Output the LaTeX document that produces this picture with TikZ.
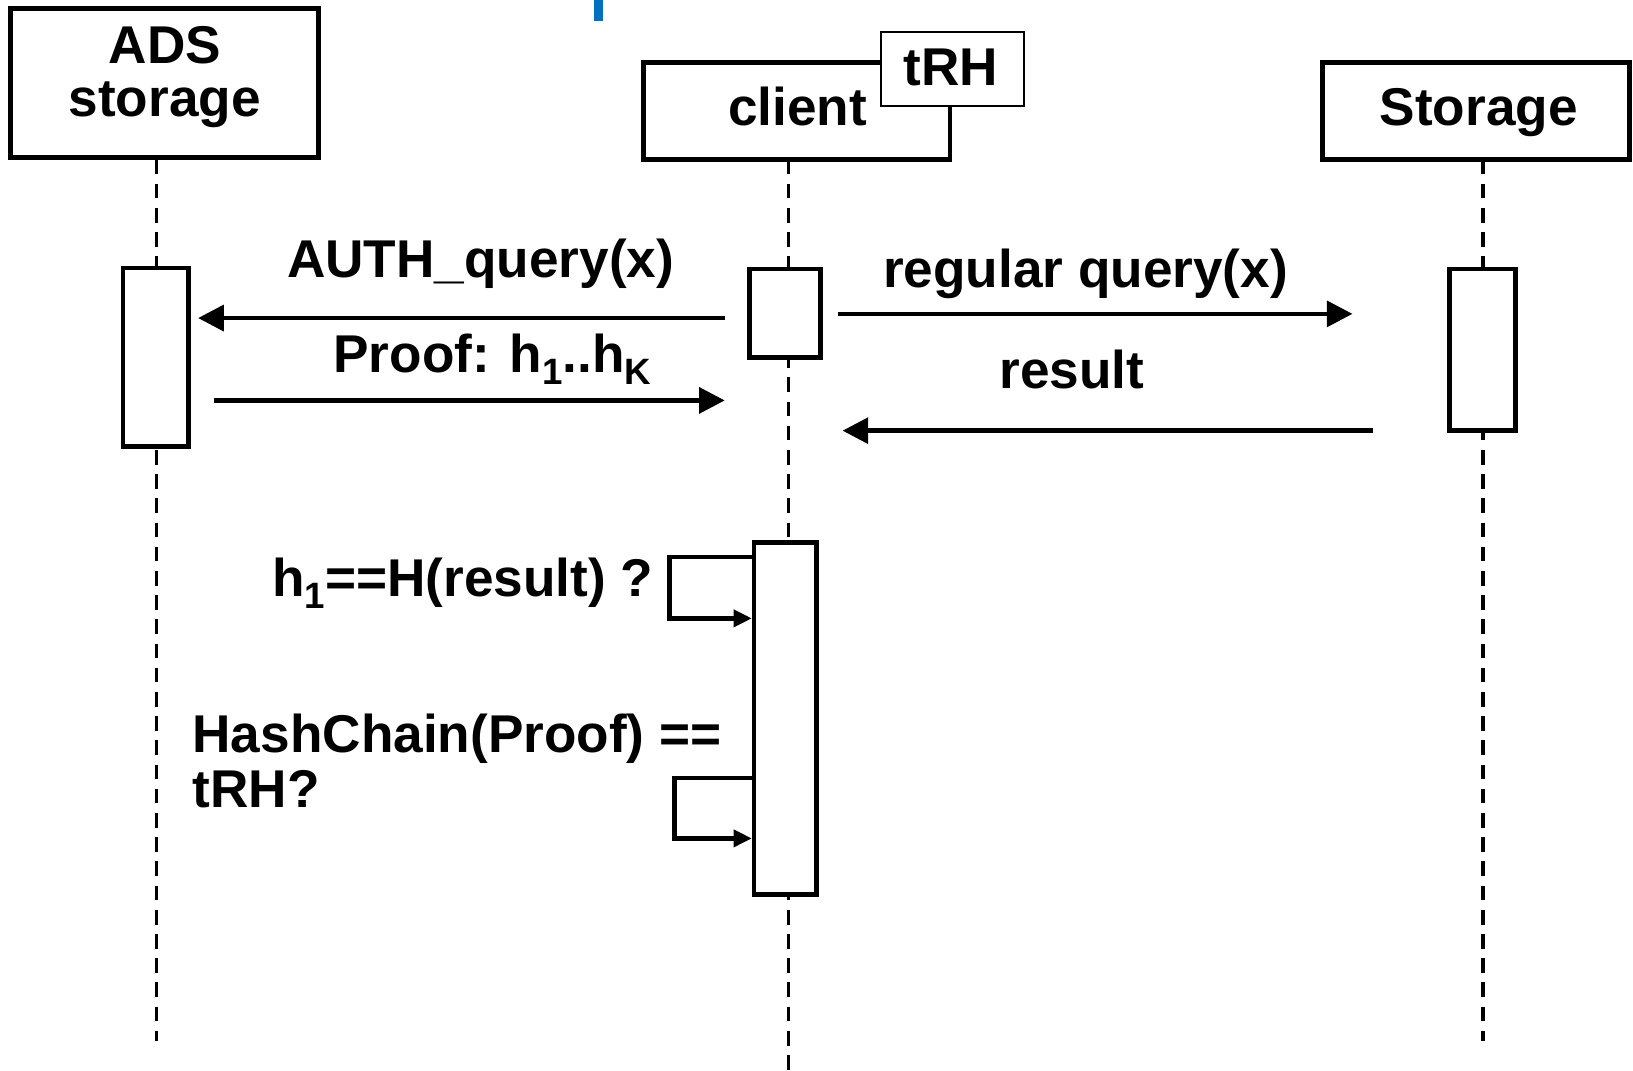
\documentclass[tikz,border=0pt]{standalone}
\usepackage{fontspec}
\setmainfont{Liberation Sans}
\usetikzlibrary{arrows.meta}
\definecolor{markblue}{RGB}{0,112,192}
\newcommand{\subidx}[1]{\raisebox{-0.42ex}{\fontsize{10}{10}\selectfont #1}}
\begin{document}
\begin{tikzpicture}[x=0.01cm,y=-0.01cm,
  lbl/.style={font=\fontsize{14.5}{14.5}\selectfont\bfseries, inner sep=0pt},
  obj/.style={draw, line width=1.35pt, fill=white, inner sep=0pt},
  tagbox/.style={draw, line width=0.5pt, fill=white, inner sep=0pt},
  act/.style={draw, line width=1.3pt, fill=white, inner sep=0pt},
  life/.style={line width=0.9pt, dash pattern=on 4pt off 2.6pt},
  msg/.style={line width=1.2pt, -{Triangle[length=7pt,width=7pt]}},
  selfmsg/.style={line width=1.2pt, -{Triangle[length=5pt,width=4.6pt]}}]
\useasboundingbox (0,0) rectangle (1566,1027);

% blue mark at the top
\fill[markblue] (570,0) rectangle (578,20);

% lifeline ends
\coordinate (l1t) at (150,153);
\coordinate (l1b) at (150,998);
\coordinate (l2t) at (756,153);
\coordinate (l2b) at (756,1027);
\coordinate (l3t) at (1422,153);
\coordinate (l3b) at (1422,998);
\draw[life] (l1t) -- (l1b);
\draw[life] (l2t) -- (l2b);
\draw[life] (l3t) -- (l3b);

% objects
\node[obj, minimum width=295*0.01cm, minimum height=143*0.01cm] (ads) at (157.5,79.5) {};
\node[obj, minimum width=294*0.01cm, minimum height=93*0.01cm] (client) at (764,106.5) {};
\node[tagbox, minimum width=137*0.01cm, minimum height=71*0.01cm] (trh) at (913.5,66.5) {};
\node[obj, minimum width=295*0.01cm, minimum height=93*0.01cm] (storage) at (1415.5,106.5) {};

\node[lbl, anchor=base] (adst1) at (158,61) {ADS};
\node[lbl, anchor=base] (adst2) at (158,112) {storage};
\node[lbl, anchor=base] (clientt) at (765,120) {client};
\node[lbl, anchor=base] (trht) at (912,82) {tRH};
\node[lbl, anchor=base] (storaget) at (1418,120) {Storage};

% activation boxes
\node[act, minimum width=63*0.01cm, minimum height=171*0.01cm] (aA) at (149.5,342.5) {};
\node[act, minimum width=68*0.01cm, minimum height=85*0.01cm] (aC1) at (753,300.5) {};
\node[act, minimum width=63*0.01cm, minimum height=155*0.01cm] (aS) at (1421.5,335.5) {};
\node[act, minimum width=60*0.01cm, minimum height=338*0.01cm] (aC2) at (753,689) {};

% messages
\coordinate (m1s) at (695,305);
\coordinate (m1e) at (190,305);
\coordinate (m2s) at (205,384);
\coordinate (m2e) at (695,384);
\coordinate (m3s) at (804,301);
\coordinate (m3e) at (1297,301);
\coordinate (m4s) at (1317,413);
\coordinate (m4e) at (808,413);
\draw[msg] (m1s) -- (m1e);
\draw[msg] (m2s) -- (m2e);
\draw[msg] (m3s) -- (m3e);
\draw[msg] (m4s) -- (m4e);

\node[lbl, anchor=base] (l1) at (461,266) {AUTH\_query(x)};
\node[lbl, anchor=base] (l2) at (472,357) {Proof: h\subidx{1}..h\subidx{K}};
\node[lbl, anchor=base] (l3) at (1041,276) {regular query(x)};
\node[lbl, anchor=base] (l4) at (1028,373) {result};

% self calls
\coordinate (s1a) at (723,534);
\coordinate (s1c) at (642,560);
\coordinate (s1b) at (721,593);
\draw[selfmsg] (s1a) -| (s1c) |- (s1b);
\coordinate (s2a) at (723,746);
\coordinate (s2c) at (647,775);
\coordinate (s2b) at (721,804);
\draw[selfmsg] (s2a) -| (s2c) |- (s2b);

\node[lbl, anchor=base east] (l5) at (627,572) {h\subidx{1}==H(result) ?};
\node[lbl, anchor=base west] (l6a) at (184,722) {HashChain(Proof) ==};
\node[lbl, anchor=base west] (l6b) at (184,774) {tRH?};
\end{tikzpicture}
\end{document}
